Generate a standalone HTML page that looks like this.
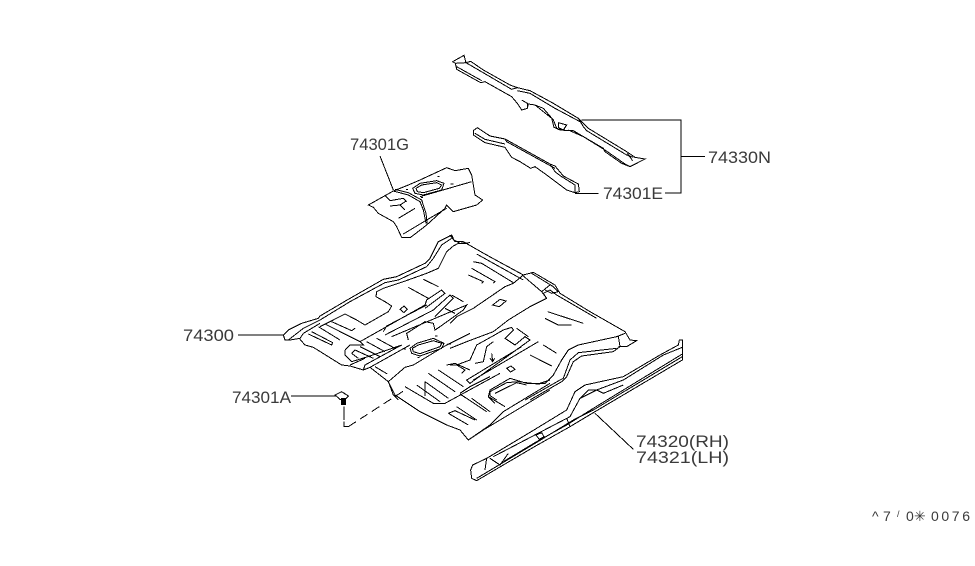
<!DOCTYPE html>
<html><head><meta charset="utf-8"><style>
html,body{margin:0;padding:0;background:#fff;width:975px;height:566px;overflow:hidden}
svg{display:block}
.l *{fill:none;stroke:#000;stroke-width:1;vector-effect:non-scaling-stroke;shape-rendering:crispEdges}
text{font-family:"Liberation Sans",sans-serif;font-size:17px;fill:#3a3a3a}
text.c{font-size:14px}
</style></head><body>
<svg width="975" height="566" viewBox="0 0 975 566" xmlns="http://www.w3.org/2000/svg">
<!-- top bars -->
<g class="l" transform="translate(440,40) scale(.33333)">
<polygon points="38,65 72,46 78,68 92,64 130,90 210,135 232,143 270,152 340,190 415,235 445,265 560,335 585,352 615,357 570,380 545,370 495,335 490,325 400,272 360,270 342,262 335,235 285,195 265,192 262,205 245,210 232,190 215,170 135,125 122,128 50,88 46,70"/>
<polyline points="50,80 125,122"/>
<polyline points="78,68 215,148 232,143"/>
<polyline points="232,152 270,160 345,205 420,245"/>
<polyline points="285,195 310,205 340,240 350,265 375,272"/>
<polygon points="355,248 380,255 370,270 355,262"/>
<polyline points="385,270 430,290 495,330 555,372 570,380"/>
<polyline points="415,235 430,260 440,272 560,345 580,352"/>
<polyline points="562,340 578,362"/>
<polyline points="245,180 262,190 262,205"/>
<polyline points="46,70 78,68"/>
<polygon points="100,272 112,263 150,288 195,297 330,372 345,378 370,408 415,432 418,455 405,458 380,450 340,420 320,405 285,380 272,385 240,365 215,352 195,322 135,308 100,285"/>
<polyline points="105,280 135,298 195,312"/>
<polyline points="195,297 200,305 345,385"/>
<polyline points="330,372 345,395 362,408 405,435 405,458"/>
<polyline points="425,240 723,240 723,459 675,459"/>
<polyline points="723,349 795,349"/>
<polyline points="405,460 475,460"/>
</g>
<!-- 74301G -->
<g class="l" transform="translate(340,130) scale(.33333)">
<polygon points="85,225 135,197 160,183 205,165 240,150 320,113 345,122 385,115 395,135 405,195 428,210 410,225 340,245 320,225 315,235 260,285 212,322 185,322 170,290 160,275 115,250 100,232"/>
<polyline points="160,183 205,195 240,215 250,240 258,280"/>
<polyline points="165,178 205,188 245,210 258,250 262,282"/>
<polygon points="218,175 240,160 290,152 312,160 305,180 250,195 225,190"/>
<polygon points="228,175 245,165 290,158 305,165 298,175 250,188 232,185"/>
<polyline points="240,200 395,155"/>
<polyline points="135,197 150,212 190,205 200,215"/>
<polyline points="150,228 180,225 195,240"/>
<polyline points="180,225 200,212"/>
<polyline points="175,265 225,235"/>
<polyline points="190,312 260,270 320,235"/>
<polyline points="320,225 335,240"/>
<polyline points="120,78 160,180"/>
<polyline points="198,178 204,178"/><polyline points="243,203 249,203"/><polyline points="332,162 340,162"/><polyline points="293,140 299,140"/>
</g>
<!-- floor left -->
<g class="l" transform="translate(270,230) scale(.33333)">
<polyline points="40,315 55,300 95,280 145,265 150,258 240,205 340,148 380,140 465,100 480,85 505,35 545,15 552,30 570,40 600,38"/>
<polyline points="55,330 100,295 150,270 240,215 345,158 385,150 470,110 490,85 515,45 545,25"/>
<polyline points="40,315 45,330 60,330 90,325 100,310 150,280"/>
<polyline points="590,40 565,40 550,48 530,65 505,115 470,130 400,155 340,175 320,185 318,200 345,215 365,228 355,245 285,285 260,270 225,252 150,290"/>
<polyline points="90,328 105,345 130,352 215,405 240,408 280,420 300,412 355,455 405,412 430,405"/>
<polyline points="355,455 370,495 385,510"/>
<polyline points="115,312 185,345 188,338 125,305"/>
<polyline points="145,290 210,330"/>
<polyline points="165,282 270,335"/>
<polyline points="185,275 245,302 255,295"/>
<polyline points="270,335 465,225 470,210 515,180 525,190 465,235"/>
<polyline points="340,305 350,288 470,225"/>
<polyline points="345,315 490,240 540,195 550,205 495,260"/>
<polyline points="365,320 590,225 580,240 510,290 495,300 490,280 465,275 410,310 415,330"/>
<polyline points="225,360 240,345 280,345 270,335"/>
<polyline points="225,360 225,375 245,395 300,378 395,345"/>
<polyline points="240,405 285,385"/>
<polyline points="280,420 285,405 395,345"/>
<polygon points="420,355 440,340 490,325 522,340 515,355 450,378 425,370"/>
<polygon points="427,355 445,345 490,332 515,340 510,350 450,371 430,365"/>
<polyline points="245,370 255,360 310,385"/>
<polyline points="245,370 265,385"/>
<polyline points="270,350 330,380"/>
<polyline points="290,335 345,365"/>
<polyline points="320,325 375,355"/>
<polyline points="315,410 352,432"/>
<polyline points="460,148 505,170"/>
<polyline points="415,172 475,205"/>
<polygon points="390,238 402,228 412,238 402,248"/>
<polyline points="545,195 580,215"/>
<polyline points="525,235 555,250"/>
<polyline points="300,412 420,345"/>
<polyline points="405,412 430,405 530,345 600,310"/>
<polyline points="530,405 555,400 600,420"/>
<polyline points="495,318 503,318"/><polyline points="533,342 543,342"/><polyline points="402,357 408,357"/><polyline points="443,382 449,382"/>
</g>
<!-- floor right -->
<g class="l" transform="translate(450,230) scale(.33333)">
<polyline points="0,15 15,35 40,35 110,75 220,135 250,127 315,165 330,190 420,245 525,305 540,330 560,332 530,350 505,350"/>
<polyline points="220,135 190,160 165,170 70,235 20,260 0,280"/>
<polyline points="220,138 275,185 290,205 270,215 240,230 175,270 130,305 50,335 0,355"/>
<polyline points="275,185 300,165"/>
<polyline points="245,130 310,170 325,185 305,190 285,180"/>
<polyline points="290,205 280,190 300,180 320,195 440,265"/>
<polyline points="80,72 220,150"/>
<polyline points="70,95 95,100 190,158"/>
<polyline points="65,115 135,155 130,160"/>
<polyline points="55,135 100,155 95,160"/>
<polygon points="128,225 150,208 168,213 148,230"/>
<polyline points="293,245 400,280"/>
<polyline points="285,265 325,285 365,285"/>
<polyline points="525,310 500,320 385,345 355,360 335,390 310,435 285,460 262,462 205,455 170,458 120,485 120,497 140,510"/>
<polyline points="505,320 510,350 490,365 395,378 370,395 350,440 335,455 240,510"/>
<polyline points="500,355 385,368 360,390 340,445 330,450 225,510"/>
<polyline points="0,405 20,405 60,390 80,345 125,320 160,300 185,292 190,300 165,325 195,345 225,320 240,330 60,460 50,450 215,350"/>
<polyline points="265,335 70,450"/>
<polyline points="20,405 45,420 35,430"/>
<polyline points="75,400 100,395 110,350 130,335"/>
<polyline points="200,295 235,320"/>
<polyline points="280,345 320,370"/>
<polyline points="240,375 305,408"/>
<polygon points="170,415 183,408 195,418 182,426"/>
<polyline points="125,370 128,395"/><polyline points="120,385 128,395 134,385"/>
<polyline points="30,490 60,470 120,440"/>
</g>
<!-- floor lower -->
<g class="l" transform="translate(320,370) scale(.33333)">
<polyline points="205,35 225,75 300,125 380,165 420,180 445,210 510,165 550,125 690,40"/>
<polyline points="445,210 490,180 540,150 690,60"/>
<polyline points="385,130 405,122 465,150"/>
<polyline points="385,130 445,165"/>
<polyline points="410,110 470,150"/>
<polyline points="455,85 510,125"/>
<polyline points="525,100 505,80 510,60 570,25 620,40 660,40 690,30"/>
<polyline points="505,80 555,110"/>
<polyline points="525,70 590,38 620,45"/>
<polyline points="420,72 500,125"/>
<polyline points="255,50 340,100 375,100 430,70 540,10"/>
<polyline points="290,45 360,95"/>
<polyline points="315,35 385,85"/>
<polyline points="325,10 405,65"/>
<polyline points="355,0 430,50"/>
<polyline points="315,35 315,78"/>
<polyline points="72,110 72,150"/>
<polyline points="72,155 72,170 85,170"/>
<polyline points="85,170 255,60" stroke-dasharray="9,5"/>
<polygon points="45,75 65,65 85,78 75,88 60,88"/>
<rect x="64" y="86" width="13" height="18"/>
<rect x="67" y="92" width="7" height="10" style="fill:#000"/>
</g>
<!-- sill -->
<g class="l" transform="translate(460,330) scale(.33333)">
<polygon points="32,420 38,405 80,385 230,295 320,240 345,185 375,165 490,140 600,75 655,45 658,30 667,30 667,90 400,248 330,290 250,335 220,352 50,452 35,445"/>
<polyline points="50,445 250,325 340,270 400,240 667,80"/>
<polyline points="667,52 610,75 490,150 410,180 360,205 330,260 100,380"/>
<polyline points="130,395 230,335 320,285 400,235 667,72"/>
<polyline points="80,385 75,420"/>
<polyline points="90,385 120,405 145,370"/>
<polyline points="360,205 385,180 410,180 430,190 490,165"/>
<polyline points="228,315 245,308 252,320 238,328 228,315"/>
<polyline points="320,265 330,290"/>
<polyline points="405,250 520,358"/>
</g>
<!-- left leaders -->
<g class="l">
<polyline points="238,335 283,335"/>
<polyline points="291,396 337,396"/>
</g>
<!-- labels -->
<text x="708" y="163" textLength="63" lengthAdjust="spacingAndGlyphs">74330N</text>
<text x="603" y="199" textLength="60" lengthAdjust="spacingAndGlyphs">74301E</text>
<text x="350" y="150" textLength="59" lengthAdjust="spacingAndGlyphs">74301G</text>
<text x="183" y="341" textLength="51" lengthAdjust="spacingAndGlyphs">74300</text>
<text x="232" y="403" textLength="59" lengthAdjust="spacingAndGlyphs">74301A</text>
<text x="636" y="447" textLength="93" lengthAdjust="spacingAndGlyphs">74320(RH)</text>
<text x="636" y="463" textLength="93" lengthAdjust="spacingAndGlyphs">74321(LH)</text>
<text class="c" x="872" y="521">^</text>
<text class="c" x="883" y="521">7</text>
<text class="c" x="897" y="517" style="font-size:9px">/</text>
<text class="c" x="906" y="521">0</text>
<text class="c" x="914" y="521">✳</text>
<text class="c" x="931" y="521" textLength="39" lengthAdjust="spacing">0076</text>
</svg>
</body></html>
